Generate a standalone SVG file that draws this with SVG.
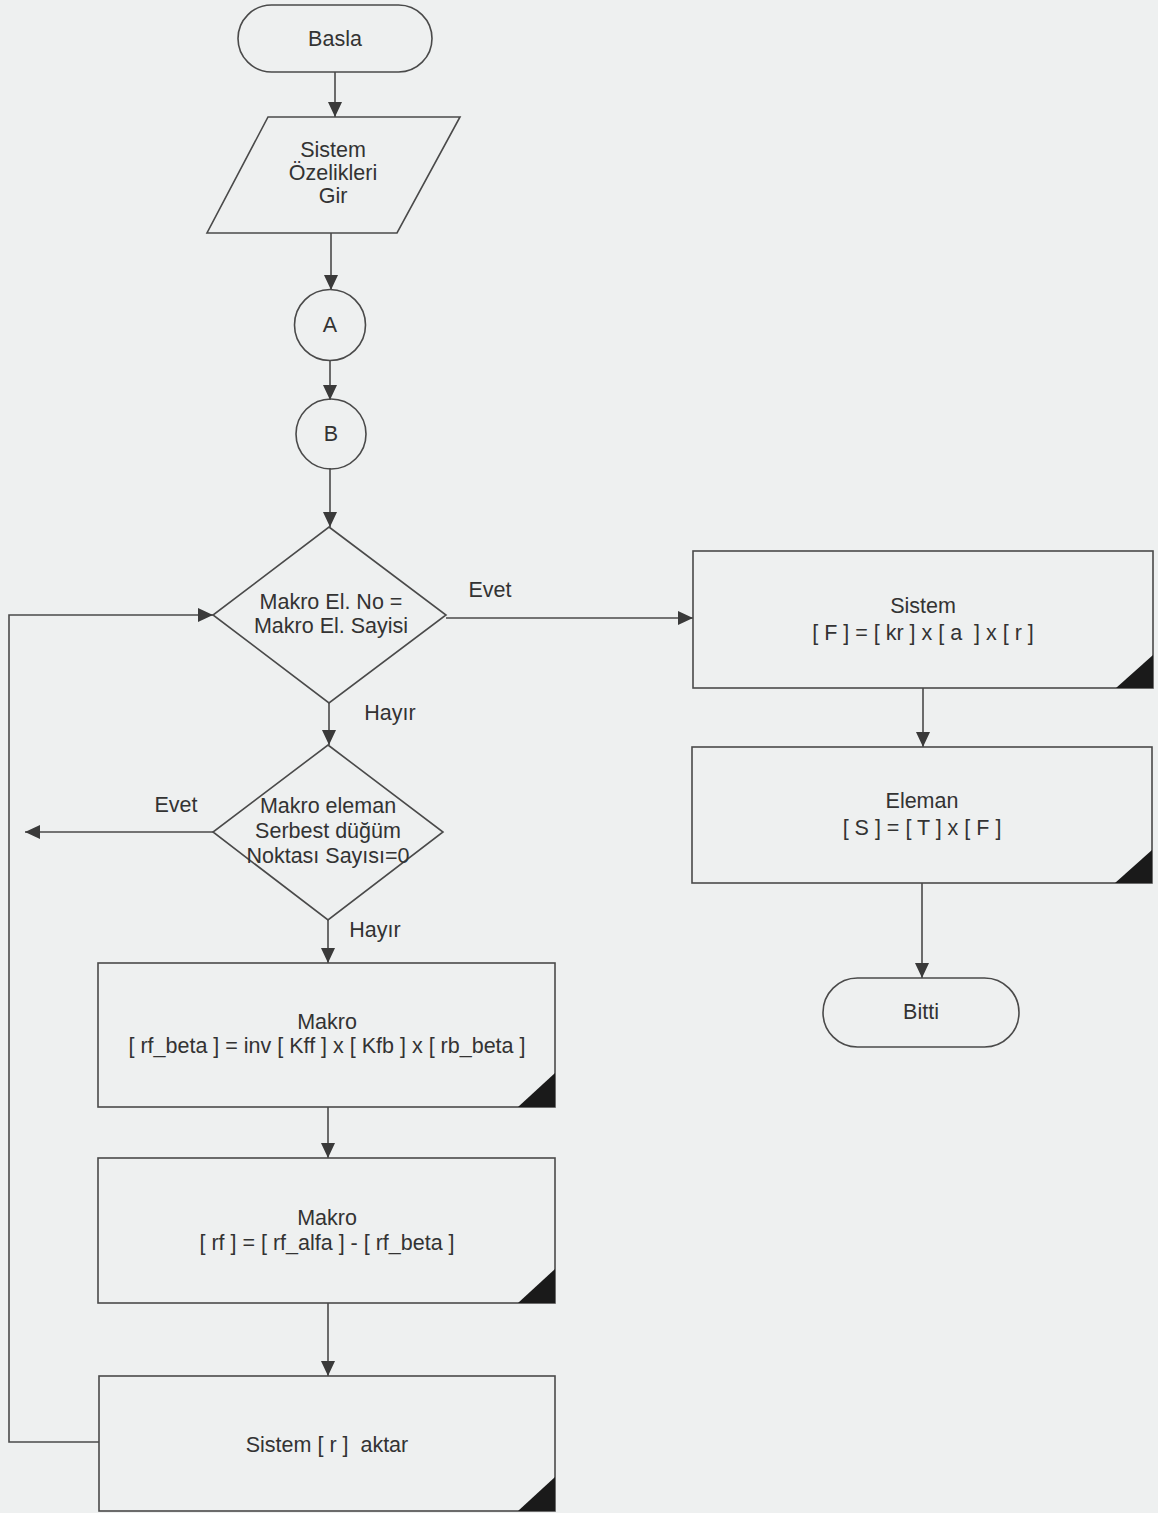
<svg xmlns="http://www.w3.org/2000/svg" width="1158" height="1513" viewBox="0 0 1158 1513">
<defs>
<marker id="arr" viewBox="0 0 15 14" refX="15" refY="7" markerWidth="15" markerHeight="14" markerUnits="userSpaceOnUse" orient="auto">
<path d="M0,0 L15,7 L0,14 Z" fill="#3a3a3a"/>
</marker>
</defs>
<style>
.shape{fill:none;stroke:#4a4a4a;stroke-width:1.6}
.conn{fill:none;stroke:#4a4a4a;stroke-width:1.6}
.tri{fill:#1a1a1a}
text{font-family:"Liberation Sans",Arial,sans-serif;font-size:21.5px;fill:#333;text-anchor:middle}
.pre{white-space:pre}
</style>
<rect x="0" y="0" width="1158" height="1513" fill="#eef0f0"/>

<g id="connectors">
<line class="conn" x1="335" y1="72" x2="335" y2="117" marker-end="url(#arr)"/>
<line class="conn" x1="331" y1="233" x2="331" y2="290" marker-end="url(#arr)"/>
<line class="conn" x1="330" y1="360" x2="330" y2="400" marker-end="url(#arr)"/>
<line class="conn" x1="330" y1="468" x2="330" y2="527" marker-end="url(#arr)"/>
<line class="conn" x1="446" y1="618" x2="693" y2="618" marker-end="url(#arr)"/>
<line class="conn" x1="329" y1="703" x2="329" y2="745" marker-end="url(#arr)"/>
<line class="conn" x1="213" y1="832" x2="25" y2="832" marker-end="url(#arr)"/>
<line class="conn" x1="328" y1="920" x2="328" y2="963" marker-end="url(#arr)"/>
<line class="conn" x1="328" y1="1107" x2="328" y2="1158" marker-end="url(#arr)"/>
<line class="conn" x1="328" y1="1303" x2="328" y2="1376" marker-end="url(#arr)"/>
<polyline class="conn" points="99,1442 9,1442 9,615 213,615" marker-end="url(#arr)"/>
<line class="conn" x1="923" y1="688" x2="923" y2="747" marker-end="url(#arr)"/>
<line class="conn" x1="922" y1="883" x2="922" y2="978" marker-end="url(#arr)"/>
<text x="490" y="597">Evet</text>
<text x="390" y="720">Hayır</text>
<text x="176" y="812">Evet</text>
<text x="375" y="937">Hayır</text>
</g>

<g id="basla">
<rect class="shape" x="238" y="5" width="194" height="67" rx="33.5" ry="33.5"/>
<text x="335" y="46">Basla</text>
</g>

<g id="sistem-ozellikleri">
<polygon class="shape" points="268,117 460,117 397,233 207,233"/>
<text x="333" y="157">Sistem</text>
<text x="333" y="180">Özelikleri</text>
<text x="333" y="203">Gir</text>
</g>

<g id="conn-a">
<circle class="shape" cx="330" cy="325" r="35.5"/>
<text x="330" y="332">A</text>
</g>

<g id="conn-b">
<circle class="shape" cx="331" cy="434" r="35"/>
<text x="331" y="441">B</text>
</g>

<g id="karar-1">
<polygon class="shape" points="329,527 446,615 329,703 213,615"/>
<text x="331" y="609">Makro El. No =</text>
<text x="331" y="633">Makro El. Sayisi</text>
</g>

<g id="karar-2">
<polygon class="shape" points="328,745 443,832 328,920 213,832"/>
<text x="328" y="813">Makro eleman</text>
<text x="328" y="838">Serbest düğüm</text>
<text x="328" y="863">Noktası Sayısı=0</text>
</g>

<g id="makro-1">
<rect class="shape" x="98" y="963" width="457" height="144"/>
<polygon class="tri" points="555,1073 555,1107 518,1107"/>
<text x="327" y="1029">Makro</text>
<text x="327" y="1053">[ rf_beta ] = inv [ Kff ] x [ Kfb ] x [ rb_beta ]</text>
</g>

<g id="makro-2">
<rect class="shape" x="98" y="1158" width="457" height="145"/>
<polygon class="tri" points="555,1269 555,1303 518,1303"/>
<text x="327" y="1225">Makro</text>
<text x="327" y="1250">[ rf ] = [ rf_alfa ] - [ rf_beta ]</text>
</g>

<g id="sistem-aktar">
<rect class="shape" x="99" y="1376" width="456" height="135"/>
<polygon class="tri" points="555,1477 555,1511 518,1511"/>
<text class="pre" x="327" y="1452">Sistem [ r ]  aktar</text>
</g>

<g id="sistem-f">
<rect class="shape" x="693" y="551" width="460" height="137"/>
<polygon class="tri" points="1153,655 1153,688 1116,688"/>
<text x="923" y="613">Sistem</text>
<text class="pre" x="923" y="640">[ F ] = [ kr ] x [ a  ] x [ r ]</text>
</g>

<g id="eleman-s">
<rect class="shape" x="692" y="747" width="460" height="136"/>
<polygon class="tri" points="1152,850 1152,883 1115,883"/>
<text x="922" y="808">Eleman</text>
<text x="922" y="835">[ S ] = [ T ] x [ F ]</text>
</g>

<g id="bitti">
<rect class="shape" x="823" y="978" width="196" height="69" rx="34.5" ry="34.5"/>
<text x="921" y="1019">Bitti</text>
</g>
</svg>
